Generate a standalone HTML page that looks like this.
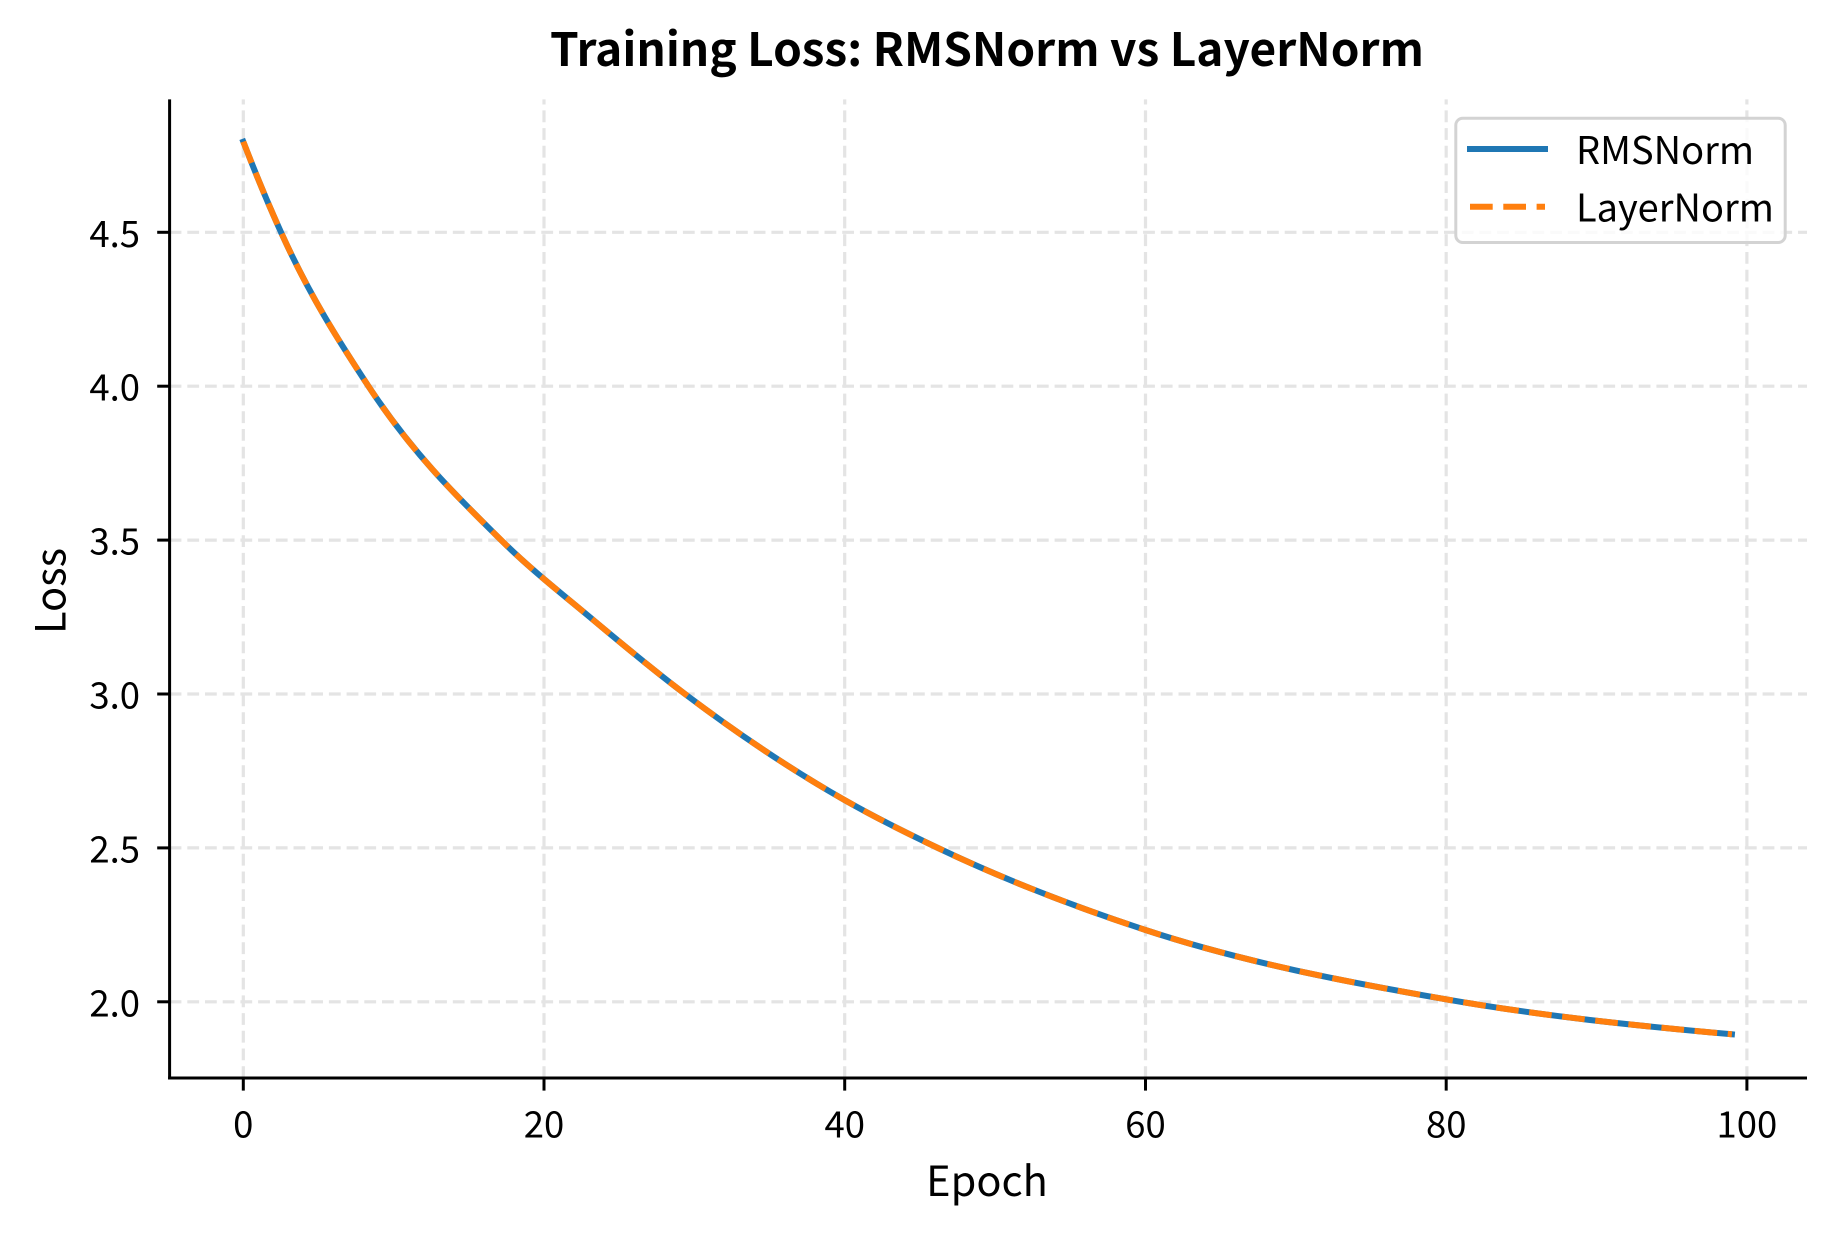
<!DOCTYPE html>
<html>
<head>
<meta charset="utf-8">
<style>
  html, body { margin: 0; padding: 0; background: #ffffff; }
  svg { display: block; }
  text { font-family: "Noto Sans CJK JP", "Liberation Sans", sans-serif; fill: #000; }
</style>
</head>
<body>
<svg width="1834" height="1234" viewBox="0 0 1834 1234" xmlns="http://www.w3.org/2000/svg">
  <rect x="0" y="0" width="1834" height="1234" fill="#ffffff"/>

  <!-- grid: vertical (drawn bottom to top) -->
  <g stroke="#e4e4e4" stroke-width="3.2" stroke-dasharray="11.8 5.9" fill="none">
    <line x1="243.3" y1="1078" x2="243.3" y2="99.4"/>
    <line x1="544.0" y1="1078" x2="544.0" y2="99.4"/>
    <line x1="844.7" y1="1078" x2="844.7" y2="99.4"/>
    <line x1="1145.5" y1="1078" x2="1145.5" y2="99.4"/>
    <line x1="1446.2" y1="1078" x2="1446.2" y2="99.4"/>
    <line x1="1746.9" y1="1078" x2="1746.9" y2="99.4"/>
  </g>
  <!-- grid: horizontal -->
  <g stroke="#e4e4e4" stroke-width="3.2" stroke-dasharray="11.8 5.9" fill="none">
    <line x1="169.6" y1="232.3" x2="1807" y2="232.3"/>
    <line x1="169.6" y1="386.2" x2="1807" y2="386.2"/>
    <line x1="169.6" y1="540.1" x2="1807" y2="540.1"/>
    <line x1="169.6" y1="694.0" x2="1807" y2="694.0"/>
    <line x1="169.6" y1="847.9" x2="1807" y2="847.9"/>
    <line x1="169.6" y1="1001.8" x2="1807" y2="1001.8"/>
  </g>

  <!-- series -->
  <path d="M243.3,141.7
           C255.87,174.25 268.43,204.56 281,232.3
           C310.1,296.52 339.2,341.71 368.3,386
           C412.53,453.32 456.77,496.34 501,540
           C531.77,570.37 562.53,594.25 593.3,620
           C623.87,645.58 654.43,670.92 685,694
           C738.17,734.14 791.33,769.75 844.5,800
           C875.67,817.73 906.83,833.16 938,848
           C1007.17,880.92 1076.33,907.31 1145.5,930
           C1245.67,962.85 1345.83,981.77 1446,999.3
           C1541.3,1015.98 1636.6,1025.72 1731.9,1034.3"
        fill="none" stroke="#1f77b4" stroke-width="6" stroke-linecap="square" stroke-linejoin="round"/>
  <path d="M243.3,141.7
           C255.87,174.25 268.43,204.56 281,232.3
           C310.1,296.52 339.2,341.71 368.3,386
           C412.53,453.32 456.77,496.34 501,540
           C531.77,570.37 562.53,594.25 593.3,620
           C623.87,645.58 654.43,670.92 685,694
           C738.17,734.14 791.33,769.75 844.5,800
           C875.67,817.73 906.83,833.16 938,848
           C1007.17,880.92 1076.33,907.31 1145.5,930
           C1245.67,962.85 1345.83,981.77 1446,999.3
           C1541.3,1015.98 1636.6,1025.72 1731.9,1034.3"
        fill="none" stroke="#ff7f0e" stroke-width="6" stroke-dasharray="22.7 10.6" stroke-linecap="butt" stroke-linejoin="round"/>

  <!-- spines -->
  <g stroke="#000" stroke-width="3" fill="none">
    <line x1="169.6" y1="99.4" x2="169.6" y2="1079.5"/>
    <line x1="168.1" y1="1078" x2="1807" y2="1078"/>
  </g>

  <!-- y ticks -->
  <g stroke="#000" stroke-width="3">
    <line x1="157.2" y1="232.3" x2="169.6" y2="232.3"/>
    <line x1="157.2" y1="386.2" x2="169.6" y2="386.2"/>
    <line x1="157.2" y1="540.1" x2="169.6" y2="540.1"/>
    <line x1="157.2" y1="694.0" x2="169.6" y2="694.0"/>
    <line x1="157.2" y1="847.9" x2="169.6" y2="847.9"/>
    <line x1="157.2" y1="1001.8" x2="169.6" y2="1001.8"/>
  </g>
  <!-- x ticks -->
  <g stroke="#000" stroke-width="3">
    <line x1="243.3" y1="1078" x2="243.3" y2="1090.6"/>
    <line x1="544.0" y1="1078" x2="544.0" y2="1090.6"/>
    <line x1="844.7" y1="1078" x2="844.7" y2="1090.6"/>
    <line x1="1145.5" y1="1078" x2="1145.5" y2="1090.6"/>
    <line x1="1446.2" y1="1078" x2="1446.2" y2="1090.6"/>
    <line x1="1746.9" y1="1078" x2="1746.9" y2="1090.6"/>
  </g>

  <!-- y tick labels -->
  <g font-size="36.5" text-anchor="end">
    <text x="140" y="246.8">4.5</text>
    <text x="140" y="400.7">4.0</text>
    <text x="140" y="554.6">3.5</text>
    <text x="140" y="708.5">3.0</text>
    <text x="140" y="862.4">2.5</text>
    <text x="140" y="1016.3">2.0</text>
  </g>
  <!-- x tick labels -->
  <g font-size="36.5" text-anchor="middle">
    <text x="243.3" y="1137.7">0</text>
    <text x="544.0" y="1137.7">20</text>
    <text x="844.7" y="1137.7">40</text>
    <text x="1145.5" y="1137.7">60</text>
    <text x="1446.2" y="1137.7">80</text>
    <text x="1746.9" y="1137.7">100</text>
  </g>

  <!-- axis labels -->
  <text x="987" y="1196" font-size="41.5" text-anchor="middle">Epoch</text>
  <text transform="translate(65.7,591) rotate(-90)" font-size="41.5" text-anchor="middle">Loss</text>

  <!-- title -->
  <text x="987" y="66" font-size="46" font-weight="bold" text-anchor="middle">Training Loss: RMSNorm vs LayerNorm</text>

  <!-- legend -->
  <rect x="1455.8" y="118.2" width="329.4" height="124.3" rx="7" ry="7" fill="#ffffff" fill-opacity="0.8" stroke="#d3d3d3" stroke-width="3"/>
  <line x1="1470" y1="149" x2="1545" y2="149" stroke="#1f77b4" stroke-width="6" stroke-linecap="square"/>
  <line x1="1470" y1="206.7" x2="1545" y2="206.7" stroke="#ff7f0e" stroke-width="6" stroke-dasharray="22.7 10.6" stroke-linecap="butt"/>
  <text x="1576" y="164" font-size="38">RMSNorm</text>
  <text x="1576" y="221.7" font-size="38">LayerNorm</text>
</svg>
</body>
</html>
